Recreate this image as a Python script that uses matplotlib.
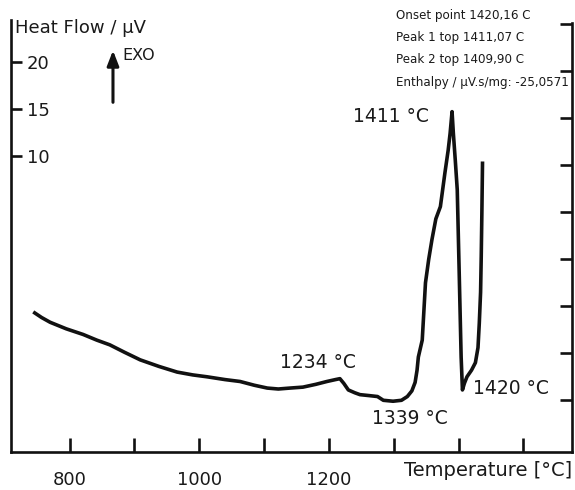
import matplotlib
matplotlib.use("Agg")
import matplotlib.pyplot as plt

# ---- data ----
temperature = [744, 757, 770, 795, 821, 842, 862, 885, 909, 938, 966, 990, 1012,
               1040, 1063, 1085, 1105, 1122, 1140, 1160, 1180, 1197, 1210, 1217,
               1223, 1230, 1240, 1248, 1262, 1275, 1284, 1299, 1312, 1321, 1328,
               1333, 1336, 1338, 1341, 1344, 1349, 1354, 1359, 1365, 1372, 1379,
               1384, 1387, 1390, 1392, 1395, 1398, 1401, 1404, 1406, 1409, 1413,
               1420, 1426, 1430, 1432, 1434, 1435, 1436, 1437]
heat_flow = [-6.6, -7.2, -7.7, -8.4, -9.0, -9.6, -10.1, -10.9, -11.7, -12.4,
             -13.0, -13.3, -13.5, -13.8, -14.0, -14.4, -14.7, -14.8, -14.7, -14.6,
             -14.3, -14.0, -13.8, -13.7, -14.2, -14.9, -15.2, -15.4, -15.5, -15.6,
             -16.0, -16.1, -16.0, -15.6, -15.0, -14.1, -12.8, -11.4, -10.5, -9.6,
             -3.5, -1.0, 1.1, 3.3, 4.6, 8.2, 10.6, 12.4, 14.7, 12.4, 9.5, 6.4, -2.4,
             -11.4, -14.9, -14.2, -13.5, -12.8, -12.0, -10.4, -7.8, -4.5, -0.7,
             4.0, 9.4]

x_ticks = [800, 900, 1000, 1100, 1200, 1300, 1400, 1500]
x_tick_labels = ["800", "", "1000", "", "1200", "", "", ""]
left_ticks = [10, 15, 20]
left_tick_labels = ["10", "15", "20"]
right_ticks = [24, 19, 14, 9, 4, -1, -6, -11, -16]

info_lines = ["Onset point 1420,16 C",
              "Peak 1 top 1411,07 C",
              "Peak 2 top 1409,90 C",
              "Enthalpy / \u00b5V.s/mg: -25,0571"]
peak_labels = ["1411 \u00b0C", "1234 \u00b0C", "1339 \u00b0C", "1420 \u00b0C"]
peak_label_pos = [(1237, 14.2), (1125, -12.0), (1267, -17.9), (1423, -14.7)]

# ---- figure ----
plt.rcParams['font.family'] = ['DejaVu Sans']
W, H = 575, 490
fig = plt.figure(figsize=(W / 100, H / 100), dpi=100)
left_px, right_px, bottom_px, top_px = 11, 572, 452, 12
ax = fig.add_axes([left_px / W, 1 - bottom_px / H,
                   (right_px - left_px) / W, (bottom_px - top_px) / H])
ax.set_xlim(709.7, 1575)
ax.set_ylim(-21.5, 25.3)

txt = '#1a1a1a'
ax.plot(temperature, heat_flow, color='#111111', lw=2.6, solid_capstyle='butt',
        solid_joinstyle='round')

ax.spines['top'].set_visible(False)
for s in ['left', 'right', 'bottom']:
    ax.spines[s].set_linewidth(1.9)
    ax.spines[s].set_color('#111111')
ax.spines['left'].set_bounds(-21.5, 24.5)
ax.spines['right'].set_bounds(-21.5, 24.1)

ax.set_xticks(x_ticks)
ax.set_xticklabels(x_tick_labels)
ax.tick_params(axis='x', direction='in', length=10, width=1.9, color='#111111',
               pad=14, labelsize=13, labelcolor=txt)

ax.set_yticks(left_ticks)
ax.set_yticklabels(left_tick_labels)
ax.tick_params(axis='y', direction='in', length=8, width=1.9, color='#111111',
               pad=-11.5, labelsize=13, labelcolor=txt)
for lab in ax.get_yticklabels():
    lab.set_horizontalalignment('left')

ax2 = ax.twinx()
ax2.set_ylim(ax.get_ylim())
for s in ['top', 'left', 'bottom', 'right']:
    ax2.spines[s].set_visible(False)
ax2.set_yticks(right_ticks)
ax2.set_yticklabels([])
ax2.tick_params(axis='y', direction='in', length=9, width=1.9, color='#111111')

# texts
ax.text(716, 23.6, "Heat Flow / \u00b5V", fontsize=13, color=txt, ha='left', va='center')
ax.text(882, 20.7, "EXO", fontsize=11.5, color=txt, ha='left', va='center')
ax.annotate("", xy=(867, 21.5), xytext=(867, 15.4),
            arrowprops=dict(arrowstyle='-|>,head_length=0.9,head_width=0.35',
                            color='#111111', lw=2.2))

for i, line in enumerate(info_lines):
    fig.text(396 / W, 1 - (15 + 22.5 * i) / H, line, fontsize=8.6, color=txt,
             ha='left', va='center')

for lab, (x, y) in zip(peak_labels, peak_label_pos):
    ax.text(x, y, lab, fontsize=13.5, color=txt, ha='left', va='center')

ax.text(1.0, -0.041, "Temperature [\u00b0C]", transform=ax.transAxes, fontsize=14,
        color=txt, ha='right', va='center')

fig.savefig("out.png", dpi=100)
